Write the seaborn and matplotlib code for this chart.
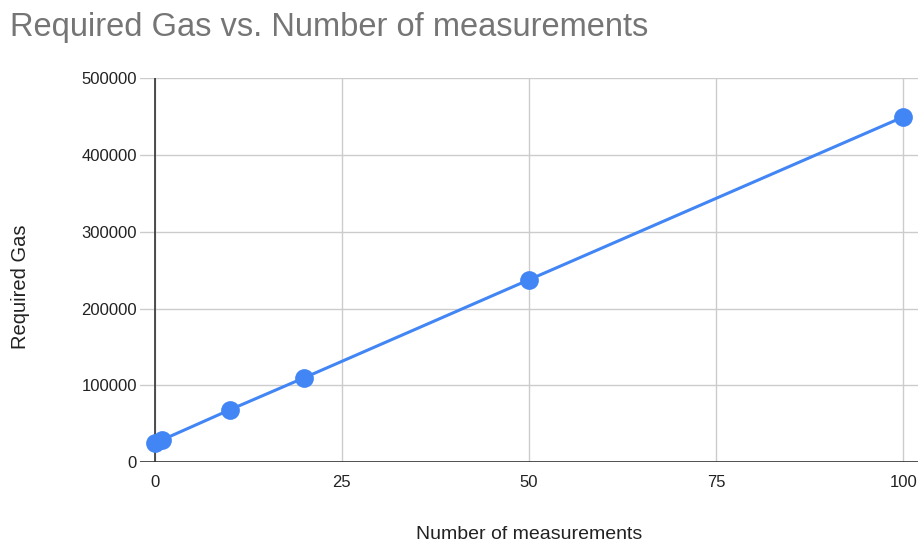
import matplotlib
matplotlib.use("Agg")
import matplotlib.pyplot as plt
import seaborn as sns
import pandas as pd

# values
measurements = [0, 1, 10, 20, 50, 100]
required_gas = [25000, 29000, 68000, 110000, 237500, 449500]

df = pd.DataFrame({"measurements": measurements, "gas": required_gas})

sns.set_style("whitegrid")
plt.rcParams['font.family'] = ['Liberation Sans', 'DejaVu Sans']

fig = plt.figure(figsize=(9.2, 5.43), dpi=100)
ax = fig.add_axes([0.152, 0.149, 0.846, 0.707])

sns.lineplot(data=df, x="measurements", y="gas", ax=ax, color="#4285F4",
             linewidth=2.2, marker="o", markersize=13.5, markeredgewidth=0,
             zorder=3)

ax.set_xlim(-2, 102)
ax.set_ylim(0, 500000)
ax.set_xticks([0, 25, 50, 75, 100])
ax.set_yticks([0, 100000, 200000, 300000, 400000, 500000])
ax.ticklabel_format(style="plain", axis="y")

ax.grid(True, color="#cccccc", linewidth=1)
for s in ax.spines.values():
    s.set_visible(False)
ax.axvline(0, color="#333333", linewidth=1.2, zorder=2)
ax.axhline(0, color="#333333", linewidth=1.2, zorder=2)

ax.tick_params(axis="x", labelsize=12, colors="#222222", length=0, pad=9)
ax.tick_params(axis="y", labelsize=12, colors="#222222", length=0, pad=2)
ax.set_xlabel("Number of measurements", fontsize=14, color="#222222", labelpad=26)
ax.set_ylabel("Required Gas", fontsize=14.5, color="#222222", labelpad=37)
ax.yaxis.label.set_y(0.458)

fig.text(0.011, 0.95, "Required Gas vs. Number of measurements",
         fontsize=23.5, color="#757575", ha="left", va="center")

fig.savefig("out.png", dpi=100)
